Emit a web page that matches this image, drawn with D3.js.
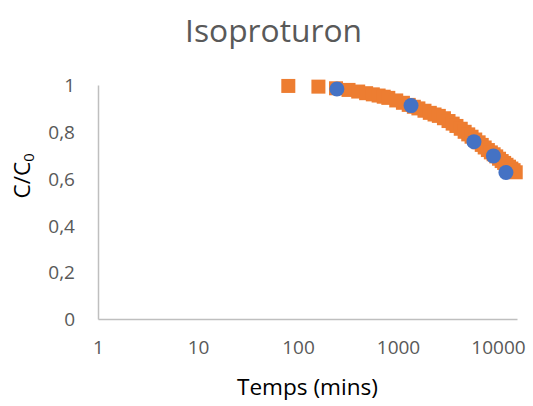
<!DOCTYPE html>
<html>
<head>
<meta charset="utf-8">
<script src="https://cdn.jsdelivr.net/npm/d3@7"></script>
<style>
  html, body { margin: 0; padding: 0; background: #fff; }
  svg { display: block; }
</style>
</head>
<body>
<div id="chart"></div>
<script>
// ---- data ----
const chartTitle = "Isoproturon";
const xTitle = "Temps (mins)";
const xTickValues = [1, 10, 100, 1000, 10000];
const yTickValues = [0, 0.2, 0.4, 0.6, 0.8, 1];

// model series (orange squares)
const modelTime = [80, 160, 240, 320, 400, 480, 560, 640, 720, 800, 960, 1120, 1280, 1440, 1600,
  1840, 2080, 2320, 2560, 2880, 3200, 3520, 3840, 4240, 4640, 5040, 5440, 5920, 6400, 6880,
  7360, 7920, 8480, 9040, 9600, 10240, 10880, 11520, 12160, 12880, 13600, 14320, 15040];
const modelValue = [0.996, 0.993, 0.986, 0.979, 0.972, 0.965, 0.960, 0.955, 0.950, 0.945, 0.934,
  0.924, 0.915, 0.907, 0.900, 0.890, 0.881, 0.874, 0.868, 0.858, 0.846, 0.835, 0.825, 0.813,
  0.800, 0.789, 0.779, 0.767, 0.755, 0.744, 0.733, 0.722, 0.712, 0.704, 0.695, 0.685, 0.675,
  0.667, 0.659, 0.651, 0.643, 0.636, 0.627];

// measured series (blue circles)
const measTime = [245, 1350, 5750, 9000, 12000];
const measValue = [0.983, 0.912, 0.758, 0.697, 0.626];

// ---- layout ----
const W = 533, H = 406;
const margin = { left: 98, right: 16, top: 85, bottom: 87 };
const xMax = Math.pow(10, 4.19);

const svg = d3.select("#chart").append("svg").attr("width", W).attr("height", H);

const x = d3.scaleLog().domain([1, xMax]).range([margin.left, W - margin.right]);
const y = d3.scaleLinear().domain([0, 1]).range([H - margin.bottom, margin.top]);

const loc = d3.formatLocale({ decimal: ",", thousands: "", grouping: [3], currency: ["", ""] });
const fy = loc.format("~g");
const fx = loc.format("d");

const FONT = "'Open Sans', 'Noto Sans', sans-serif";

function fitText(sel, targetW) {
  const n = sel.node();
  const fs = parseFloat(sel.attr("font-size"));
  const w = n.getComputedTextLength();
  if (w > 0) sel.attr("font-size", (fs * targetW / w).toFixed(2));
}

// axes
const xAxis = svg.append("g")
  .attr("transform", `translate(0,${y(0)})`)
  .call(d3.axisBottom(x).tickValues(xTickValues).tickFormat(fx).tickSize(0).tickPadding(22));
const yAxis = svg.append("g")
  .attr("transform", `translate(${x(1)},0)`)
  .call(d3.axisLeft(y).tickValues(yTickValues).tickFormat(fy).tickSize(0).tickPadding(23));

[xAxis, yAxis].forEach(g => {
  g.select(".domain").attr("stroke", "#BFBFBF").attr("stroke-width", 1.5);
  g.selectAll("text").attr("fill", "#595959").attr("font-family", FONT).attr("font-size", 19);
});
yAxis.selectAll("text").attr("dy", "0.35em");

// model squares
const sq = 14;
svg.append("g").selectAll("rect")
  .data(modelTime.map((t, i) => ({ t, v: modelValue[i] })))
  .join("rect")
  .attr("x", d => x(d.t) - sq / 2)
  .attr("y", d => y(d.v) - sq / 2)
  .attr("width", sq).attr("height", sq)
  .attr("fill", "#ED7D31");

// measured circles
svg.append("g").selectAll("circle")
  .data(measTime.map((t, i) => ({ t, v: measValue[i] })))
  .join("circle")
  .attr("cx", d => x(d.t))
  .attr("cy", d => y(d.v))
  .attr("r", 7.5)
  .attr("fill", "#4472C4");

// title
const title = svg.append("text")
  .attr("x", 273.5).attr("y", 42)
  .attr("text-anchor", "middle")
  .attr("font-family", FONT).attr("font-size", 32)
  .attr("fill", "#595959")
  .text(chartTitle);
fitText(title, 177);

// x title
const xt = svg.append("text")
  .attr("x", 307.5).attr("y", 395)
  .attr("text-anchor", "middle")
  .attr("font-family", FONT).attr("font-size", 22)
  .attr("fill", "#000")
  .text(xTitle);
fitText(xt, 141);

// y title
const yt = svg.append("text")
  .attr("transform", "translate(30,176) rotate(-90)")
  .attr("text-anchor", "middle")
  .attr("font-family", FONT).attr("font-size", xt.attr("font-size"))
  .attr("fill", "#000");
yt.append("tspan").text("C/C");
yt.append("tspan").attr("font-size", "0.65em").attr("dy", "0.3em").text("0");
</script>
</body>
</html>
